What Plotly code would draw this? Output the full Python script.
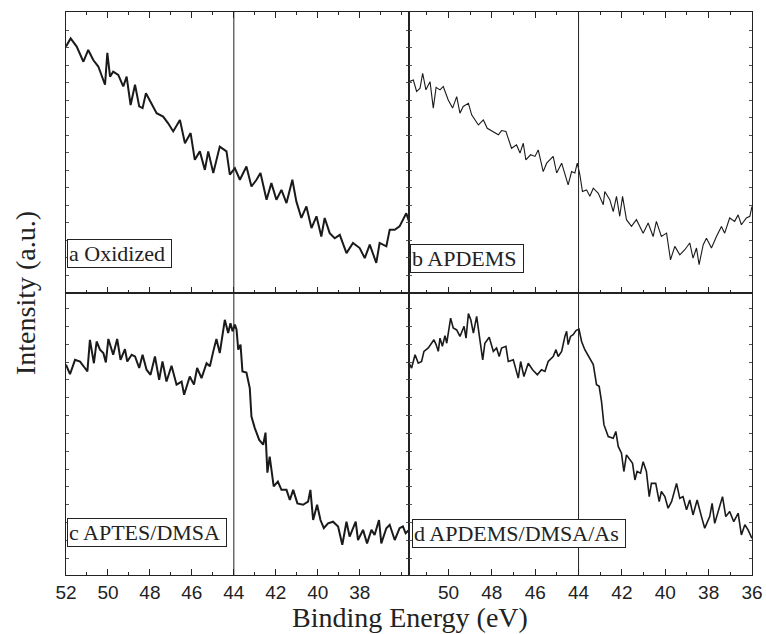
import plotly.graph_objects as go

# ---------------- data (binding energy in eV, intensity in a.u.) ----------------
energy_a = [52.0, 51.78, 51.49, 51.33, 51.17, 50.94, 50.70, 50.46, 50.30, 50.14, 50.03, 49.90, 49.75, 49.51,
            49.27, 49.11, 48.92, 48.71, 48.51, 48.35, 48.19, 47.92, 47.68, 47.37, 47.13, 46.89, 46.57, 46.33,
            46.06, 45.86, 45.62, 45.38, 45.22, 44.98, 44.67, 44.35, 44.19, 43.95, 43.71, 43.40, 43.16, 42.92,
            42.73, 42.44, 42.21, 41.97, 41.73, 41.49, 41.21, 41.02, 40.78, 40.54, 40.30, 40.06, 39.83, 39.67,
            39.43, 39.19, 38.95, 38.63, 38.32, 38.00, 37.76, 37.52, 37.21, 37.05, 36.73, 36.57, 36.33, 36.10,
            35.78, 35.65]
intensity_a = [87.7, 90.6, 87.7, 84.7, 82.3, 86.5, 82.9, 80.6, 77.6, 74.1, 85.5, 77.0, 78.8, 77.6,
               73.5, 77.0, 66.9, 74.1, 66.4, 65.8, 71.1, 67.5, 64.0, 62.8, 60.4, 57.5, 61.6, 53.3,
               56.9, 47.4, 50.4, 43.8, 50.4, 42.7, 52.1, 50.4, 42.1, 44.4, 40.3, 45.0, 37.9, 40.3,
               42.7, 33.2, 39.1, 33.2, 36.7, 32.0, 40.3, 32.6, 26.7, 30.8, 23.1, 27.3, 20.1, 26.7,
               21.3, 19.5, 20.7, 14.2, 17.8, 16.0, 12.4, 17.2, 10.7, 17.8, 16.6, 22.5, 22.5, 23.7,
               28.4, 25.5]

energy_b = [51.82, 51.62, 51.47, 51.31, 51.19, 51.04, 50.85, 50.70, 50.57, 50.39, 50.24, 50.01, 49.81, 49.62,
            49.47, 49.32, 49.08, 48.93, 48.62, 48.39, 48.21, 47.93, 47.70, 47.55, 47.35, 47.09, 46.86, 46.70,
            46.55, 46.43, 46.21, 46.01, 45.86, 45.63, 45.47, 45.17, 45.01, 44.78, 44.48, 44.32, 44.17, 44.06,
            43.94, 43.82, 43.63, 43.48, 43.32, 43.09, 42.86, 42.79, 42.56, 42.40, 42.25, 42.10, 41.97, 41.79,
            41.56, 41.33, 41.02, 40.79, 40.56, 40.41, 40.18, 39.94, 39.76, 39.56, 39.33, 39.10, 38.87, 38.72,
            38.56, 38.44, 38.25, 38.10, 37.87, 37.64, 37.41, 37.26, 37.03, 36.80, 36.64, 36.49, 36.26, 36.10,
            36.00]
intensity_b = [75.2, 75.8, 71.7, 72.9, 78.2, 72.3, 75.2, 65.8, 73.2, 72.3, 73.5, 68.7, 65.8, 69.9,
               64.0, 66.4, 67.5, 63.4, 59.8, 61.6, 58.6, 57.5, 56.3, 57.8, 57.5, 51.5, 52.7, 49.8,
               53.3, 47.4, 49.2, 48.6, 50.9, 43.2, 46.2, 48.6, 42.7, 46.2, 38.5, 43.2, 42.7, 46.2,
               42.1, 36.1, 36.7, 34.4, 37.3, 35.5, 31.4, 36.1, 33.2, 29.0, 34.4, 27.3, 34.4, 26.1,
               23.7, 26.1, 21.3, 24.9, 20.1, 25.5, 20.1, 21.3, 11.8, 16.6, 13.6, 15.4, 17.8, 12.4,
               16.0, 10.1, 17.2, 19.5, 16.0, 20.1, 23.7, 21.3, 26.7, 25.5, 27.8, 24.3, 26.7, 27.3,
               30.8]

energy_c = [52.0, 51.81, 51.57, 51.33, 51.10, 50.98, 50.86, 50.67, 50.54, 50.38, 50.22, 50.10, 49.98, 49.75,
            49.56, 49.40, 49.19, 49.08, 48.87, 48.71, 48.51, 48.35, 48.16, 47.97, 47.76, 47.56, 47.40, 47.21,
            46.97, 46.73, 46.49, 46.37, 46.10, 45.90, 45.75, 45.54, 45.30, 45.14, 44.98, 44.83, 44.67, 44.54,
            44.43, 44.27, 44.16, 44.06, 43.95, 43.87, 43.79, 43.68, 43.59, 43.40, 43.24, 43.16, 43.00, 42.79,
            42.60, 42.49, 42.40, 42.29, 42.10, 41.90, 41.73, 41.49, 41.33, 41.17, 40.97, 40.70, 40.46, 40.35,
            40.22, 40.03, 39.87, 39.71, 39.51, 39.27, 39.03, 38.83, 38.63, 38.48, 38.19, 38.08, 37.84, 37.65,
            37.44, 37.29, 37.08, 36.97, 36.73, 36.57, 36.33, 36.10, 35.94, 35.81, 35.65]
intensity_c = [74.6, 71.2, 76.3, 75.7, 73.4, 72.2, 83.4, 75.1, 82.8, 79.9, 78.7, 75.4, 83.7, 78.1,
               83.7, 76.3, 80.1, 75.7, 78.1, 77.5, 73.4, 78.1, 72.8, 71.0, 77.5, 69.2, 75.7, 68.6,
               74.2, 67.5, 68.6, 63.9, 70.4, 67.5, 73.4, 69.8, 75.1, 74.0, 79.3, 83.7, 78.7, 84.6,
               90.5, 85.8, 89.3, 86.4, 88.8, 87.0, 79.9, 81.7, 72.2, 71.8, 66.3, 56.2, 52.1, 47.9,
               46.2, 50.5, 36.3, 42.0, 31.4, 33.1, 30.2, 30.2, 26.6, 30.2, 25.4, 24.9, 26.0, 30.2,
               19.5, 24.9, 19.5, 16.6, 18.3, 18.9, 17.2, 10.7, 18.9, 13.6, 18.9, 12.4, 16.0, 11.2,
               16.0, 14.2, 19.5, 11.2, 16.6, 17.8, 12.4, 16.6, 17.2, 14.8, 16.0]

energy_d = [51.82, 51.70, 51.54, 51.39, 51.24, 51.13, 50.93, 50.77, 50.67, 50.57, 50.47, 50.39, 50.28, 50.16,
            50.08, 49.90, 49.78, 49.62, 49.47, 49.28, 49.19, 49.08, 48.97, 48.85, 48.70, 48.55, 48.42, 48.32,
            48.12, 47.93, 47.78, 47.66, 47.55, 47.35, 47.24, 47.01, 46.78, 46.67, 46.52, 46.32, 46.12, 45.90,
            45.71, 45.55, 45.40, 45.17, 45.04, 44.94, 44.78, 44.63, 44.55, 44.48, 44.37, 44.25, 44.12, 43.98,
            43.86, 43.71, 43.48, 43.32, 43.17, 43.05, 42.94, 42.83, 42.63, 42.40, 42.28, 42.17, 42.02, 41.91,
            41.79, 41.63, 41.51, 41.40, 41.30, 41.14, 41.02, 40.87, 40.74, 40.64, 40.44, 40.28, 40.18, 40.02,
            39.87, 39.71, 39.48, 39.33, 39.18, 39.02, 38.87, 38.72, 38.53, 38.33, 38.18, 37.95, 37.84, 37.72,
            37.56, 37.36, 37.21, 37.03, 36.84, 36.64, 36.49, 36.33, 36.18, 36.00]
intensity_d = [75.1, 73.4, 78.1, 75.1, 75.7, 79.3, 80.5, 82.2, 83.4, 81.7, 79.3, 84.0, 81.1, 84.9,
               82.2, 91.1, 87.6, 86.9, 84.6, 88.2, 84.0, 92.7, 90.5, 85.8, 91.7, 83.4, 76.3, 82.2,
               84.3, 79.3, 80.5, 77.5, 80.5, 81.1, 75.7, 76.3, 69.8, 75.7, 70.4, 75.1, 72.8, 71.0,
               72.8, 72.2, 75.7, 77.5, 79.9, 77.5, 79.3, 84.6, 86.4, 81.7, 84.6, 85.2, 86.7, 87.2,
               82.8, 79.9, 76.9, 74.6, 67.5, 66.9, 61.5, 53.3, 49.1, 48.5, 50.9, 45.6, 43.2, 36.7,
               42.6, 40.8, 39.6, 33.7, 36.7, 36.1, 40.2, 36.7, 27.8, 32.5, 32.5, 26.0, 29.6, 27.8,
               23.7, 26.0, 32.5, 27.2, 27.8, 23.1, 26.6, 21.3, 26.6, 20.7, 16.6, 20.7, 25.4, 18.3,
               22.5, 27.8, 20.7, 22.5, 18.9, 21.9, 14.2, 17.8, 16.0, 13.0]

panel_labels = ["a Oxidized", "b APDEMS", "c APTES/DMSA", "d APDEMS/DMSA/As"]
left_ticks = [52, 50, 48, 46, 44, 42, 40, 38]
right_ticks = [50, 48, 46, 44, 42, 40, 38, 36]
reference_energy = 44.0

# ---------------- layout geometry ----------------
W, H = 766, 634
xl = [66 / W, 409 / W]
xr = [409 / W, 752 / W]
yt = [1 - 293 / H, 1 - 12 / H]
yb = [1 - 575 / H, 1 - 293 / H]

fig = go.Figure()

series = [
    (energy_a, intensity_a, "x", "y", 2.0),
    (energy_b, intensity_b, "x2", "y2", 1.1),
    (energy_c, intensity_c, "x3", "y3", 2.0),
    (energy_d, intensity_d, "x4", "y4", 1.6),
]
for e, v, xa, ya, w in series:
    fig.add_trace(go.Scatter(x=e, y=v, xaxis=xa, yaxis=ya, mode="lines",
                             line=dict(color="#1a1a1a", width=w), showlegend=False,
                             hoverinfo="skip"))

tick_font = dict(family="Liberation Sans, Arial, sans-serif", size=19, color="#222")


def xaxis(domain, rng, ticks, labels, anchor, mirror):
    return dict(domain=domain, range=rng, anchor=anchor, showgrid=False, zeroline=False,
                showline=True, linecolor="#222", linewidth=1.2, mirror=mirror,
                ticks="inside", ticklen=6, tickcolor="#222", tickwidth=1,
                tickmode="array", tickvals=ticks, ticktext=[str(t) for t in ticks],
                showticklabels=labels, tickfont=tick_font, automargin=False,
                minor=dict(tickmode="array", tickvals=list(range(36, 53)), ticks="inside",
                           ticklen=3, tickcolor="#222"))


def yaxis(domain, anchor, vals):
    return dict(domain=domain, range=[0, 100], anchor=anchor, showgrid=False, zeroline=False,
                showline=True, linecolor="#222", linewidth=1.2, mirror="allticks",
                ticks="inside", ticklen=3, tickcolor="#555", tickwidth=1, automargin=False,
                tickmode="array", tickvals=vals, showticklabels=False)


ytop_ticks = [6.4 + 6.22 * k for k in range(16)]
ybot_ticks = [5.9 + 6.33 * k for k in range(16)]

fig.update_layout(
    width=W, height=H, margin=dict(l=0, r=0, t=0, b=0, pad=0, autoexpand=False),
    paper_bgcolor="white", plot_bgcolor="white",
    xaxis=xaxis(xl, [52, 35.65], left_ticks, False, "y", "allticks"),
    xaxis2=xaxis(xr, [51.82, 36.0], right_ticks, False, "y2", "allticks"),
    xaxis3=xaxis(xl, [52, 35.65], left_ticks, True, "y3", True),
    xaxis4=xaxis(xr, [51.82, 36.0], right_ticks, True, "y4", True),
    yaxis=yaxis(yt, "x", ytop_ticks),
    yaxis2=yaxis(yt, "x2", ytop_ticks),
    yaxis3=yaxis(yb, "x3", ybot_ticks),
    yaxis4=yaxis(yb, "x4", ybot_ticks),
)

# vertical reference lines
for xa, ya in [("x", "y"), ("x2", "y2"), ("x3", "y3"), ("x4", "y4")]:
    fig.add_shape(type="line", xref=xa, yref=ya + " domain", x0=reference_energy, x1=reference_energy,
                  y0=0, y1=1, line=dict(color="#222", width=1))

label_font = dict(family="Liberation Serif, Times New Roman, serif", size=22, color="#222")
label_pos = [("x", "y", 0.003, 0.089), ("x2", "y2", 0.003, 0.071),
             ("x3", "y3", 0.003, 0.099), ("x4", "y4", 0.008, 0.096)]
for text, (xa, ya, px, py) in zip(panel_labels, label_pos):
    fig.add_annotation(text=text + "\u00a0", xref=xa + " domain", yref=ya + " domain", x=px, y=py,
                       xanchor="left", yanchor="bottom", showarrow=False, font=label_font,
                       bordercolor="#222", borderwidth=1, borderpad=1, bgcolor="white")

title_font = dict(family="Liberation Serif, Times New Roman, serif", size=28, color="#222")
fig.add_annotation(text="Binding Energy (eV)", xref="paper", yref="paper", x=410 / W, y=1 - 617 / H,
                   xanchor="center", yanchor="middle", showarrow=False, font=title_font)
fig.add_annotation(text="Intensity (a.u.)", xref="paper", yref="paper", x=25 / W, y=1 - 293 / H,
                   xanchor="center", yanchor="middle", showarrow=False, font=title_font, textangle=-90)

# the page is shown in a window of exactly the figure size: drop the default body margin
fig.write_html("out.html", config={"displayModeBar": False},
               post_script="document.body.style.margin='0';")
